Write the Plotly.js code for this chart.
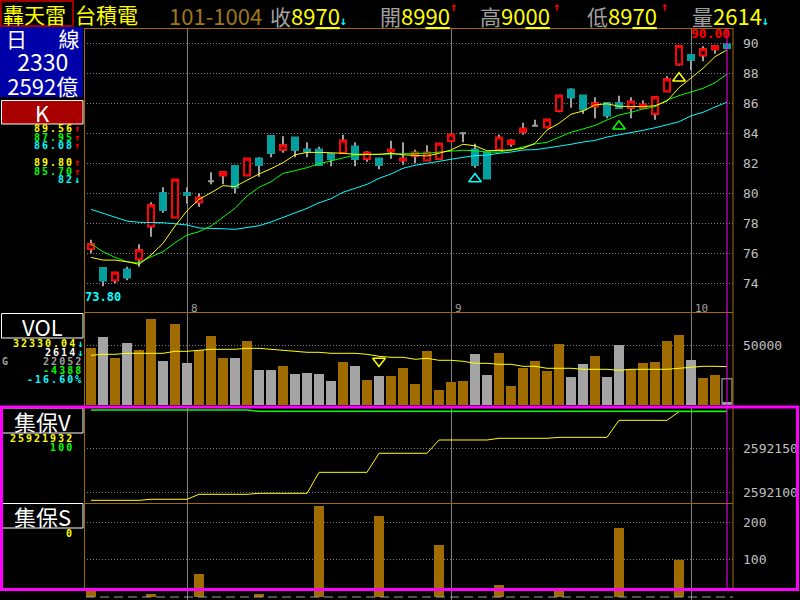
<!DOCTYPE html>
<html><head><meta charset="utf-8">
<script src="https://cdn.plot.ly/plotly-3.0.1.min.js"></script>
<style>html,body{margin:0;padding:0;background:#000;overflow:hidden}#chart{width:800px;height:600px}</style>
</head><body><div id="chart"></div>
<script>
// ---------- data ----------
const openP  = [76.3,75.0,74.2,74.9,75.6,77.8,80.0,78.4,80.0,79.4, 80.8,81.2,81.8,81.2,82.3,83.8,82.9,83.7,82.9,82.9, 82.6,82.7,83.1,82.3,82.3,82.8,82.2,82.5,82.2,82.3, 83.5,84.0,82.9,82.7,82.9,83.3,84.1,84.5,84.4,85.5, 86.9,86.5,85.8,86.0,86.0,85.7,85.7,85.3,86.8,88.6, 89.2,89.2,89.6,89.9];
const highP  = [76.9,75.0,74.7,75.1,76.6,79.4,80.4,80.9,80.4,80.0, 81.4,81.4,81.8,82.3,82.4,83.8,83.8,83.7,83.4,83.1, 82.6,83.9,83.4,82.8,82.3,83.5,83.4,82.9,83.2,83.3, 83.9,84.0,83.3,82.7,83.9,83.6,84.7,84.9,84.9,86.5, 87.0,86.5,86.4,86.0,86.5,86.4,86.2,86.4,87.8,89.8, 89.2,89.8,89.8,90.0];
const lowP   = [76.0,73.8,74.0,74.2,75.1,77.1,78.7,78.4,79.3,79.1, 80.6,80.6,80.0,81.2,81.1,82.4,82.7,82.4,82.4,81.9, 81.8,82.7,81.8,82.1,81.6,82.3,81.9,82.0,82.2,82.3, 83.5,83.4,81.7,81.0,82.9,83.1,83.9,84.5,84.4,85.4, 85.7,85.3,85.0,85.0,85.7,85.0,85.7,84.9,86.8,88.5, 88.2,88.8,89.3,89.7];
const closeP = [76.6,74.2,74.7,74.4,76.2,79.2,78.9,80.9,79.9,79.7, 80.8,81.4,80.4,82.3,81.9,82.7,83.2,82.9,82.8,81.9, 82.3,83.5,82.3,82.7,81.9,82.9,82.3,82.7,82.7,83.3, 83.9,84.0,81.9,81.0,83.7,83.5,84.3,84.5,84.9,86.5, 86.4,85.6,86.0,85.2,85.7,86.1,85.9,86.4,87.6,89.8, 88.9,89.6,89.8,89.7];
const ma5  = [75.73,75.55,75.55,75.44,75.27,75.89,76.67,77.82,78.84,79.60, 80.04,80.51,80.45,80.89,81.29,81.64,82.04,82.57,82.73,82.73, 82.71,82.67,82.60,82.60,82.60,82.67,82.57,82.53,82.49,82.67, 82.89,83.27,83.17,82.84,82.84,82.89,83.00,83.33,84.22,84.67, 85.27,85.49,85.89,85.97,85.80,85.78,85.78,85.84,86.15,87.04, 87.67,88.33,89.11,89.56];
const ma10 = [76.62,76.11,75.73,75.44,75.37,75.77,76.11,76.71,77.22,77.44, 77.82,78.40,79.00,79.82,80.40,80.77,81.33,81.51,81.71,81.97, 82.17,82.37,82.55,82.58,82.60,82.60,82.60,82.64,82.67,82.75, 82.82,82.87,82.84,82.75,82.75,82.89,83.09,83.29,83.40,83.71, 84.07,84.29,84.53,84.89,85.22,85.40,85.62,85.77,86.22,86.51, 86.77,87.00,87.37,87.95];
const ma20 = [78.93,78.67,78.44,78.15,78.07,78.07,78.04,77.97,77.89,77.69, 77.64,77.64,77.60,77.71,77.84,78.09,78.40,78.73,79.00,79.37, 79.64,80.07,80.31,80.60,81.00,81.29,81.67,81.87,82.00,82.15, 82.27,82.40,82.51,82.55,82.67,82.75,82.89,82.91,83.02,83.13, 83.27,83.42,83.53,83.75,83.89,84.04,84.20,84.37,84.55,84.77, 85.17,85.40,85.75,86.08];
const volume = [48300,57600,39900,52500,46400,72800,37100,68600,35700,46400, 58400,39900,39900,54200,29500,29500,33100,26400,27200,26400, 20500,36500,33100,21300,24700,24700,31500,18000,45800,12600, 19600,20500,43300,25500,44100,16300,31500,37400,28900,51700, 23900,34800,41600,23900,50800,30100,35700,36500,54200,59300, 38200,23000,25500,2614];
const volMA = [41900,42750,42750,43590,43590,43590,43590,45280,45280,46120, 46970,46970,46970,47810,47810,46970,46120,45280,44440,44440, 43590,43590,43590,42750,41060,40220,40220,38530,39380,37690, 37690,36850,35160,35160,34320,34320,32630,32630,30950,30950, 30950,30100,30100,30100,29260,30100,30100,30100,30100,30950, 31790,32630,32630,32330];
const estVolume = 22052;
const jbV = [2592091.4,2592091.4,2592091.4,2592091.4,2592091.4, 2592092.6,2592092.6,2592092.6,2592092.6, 2592098.2,2592098.2,2592098.2,2592098.2,2592098.2, 2592099.3,2592099.3,2592099.3,2592099.3,2592099.3, 2592123.0,2592123.0,2592123.0,2592123.0,2592123.0, 2592144.5,2592144.5,2592144.5,2592144.5,2592144.5, 2592159.5,2592159.5,2592159.5,2592159.5,2592159.5, 2592161.4,2592161.4,2592161.4,2592161.4,2592161.4, 2592162.5,2592162.5,2592162.5,2592162.5,2592162.5, 2592181.7,2592181.7,2592181.7,2592181.7,2592181.7, 2592191.5,2592191.5,2592191.5,2592191.5,2592191.5];
const jbPct = [100,100,100,100,100,100,100,100,100,100,100,100,100,100, 99.86,99.86,99.86,99.86,99.86,99.86,99.86,99.86,99.86,99.86, 99.86,99.86,99.86,99.86,99.86,99.86,99.86,99.86,99.86,99.86, 99.86,99.86,99.86,99.86,99.86,99.86,99.86,99.86,99.86,99.86, 99.86,99.86,99.86,99.86,99.86,99.86,99.86,99.86,99.86,99.86];
const jbWeekIdx = [0,5,9,14,19,24,29,34,39,44,49];
const jbS = [20,8,62,8,244,217,139,32,20,185,99];
const sigIdx = [32,44,49];
const sigVal = [80.95,84.47,87.67];
const volSigIdx = [24];
const volSigVal = [37100];
const monthIdx = [8,30,50];
const monthLabels = ['8','9','10'];
const priceTicks = [74,76,78,80,82,84,86,88,90];
const volTicks = [50000];
const jbVTicks = [2592100,2592150];
const jbSTicks = [100,200];

// ---------- styling ----------
const YEL='#ffff00', GRN='#00ff00', CYN='#00ffff', RED='#ff0000', TEAL='#00a0a0', WICK='#a0a0a0';
const VUP='#a06c00', VDN='#a4a4a4', FRAME='#a06c00', GRID='#808080', LBL='#c0c0c0', MAG='#ff00ff';
const CJK="'Noto Sans CJK TC', sans-serif";
const MONO="'DejaVu Sans Mono', monospace";

const L=84, R=733, T=28, B=600, W=R-L, H=B-T;
const pxX = x => (x-L)/W;
const pxY = y => (B-y)/H;

const idx = openP.map((_,i)=>i);
const up = closeP.map((c,i)=> c>openP[i] ? true : (c<openP[i] ? false : (i>0 ? c>=closeP[i-1] : true)));
const bodyO = openP.map((o,i)=> o===closeP[i] ? null : o);
const bodyC = closeP.map((c,i)=> c===openP[i] ? null : c);
const bodyH = openP.map((o,i)=> o===closeP[i] ? null : Math.max(o,closeP[i]));
const bodyL = openP.map((o,i)=> o===closeP[i] ? null : Math.min(o,closeP[i]));

const traces = [
  {type:'candlestick', x:idx, open:openP, high:highP, low:lowP, close:closeP, xaxis:'x', yaxis:'y',
   increasing:{line:{color:WICK,width:2}, fillcolor:'#000'}, decreasing:{line:{color:WICK,width:2}, fillcolor:'#000'},
   whiskerwidth:0, hoverinfo:'skip', showlegend:false},
  {type:'candlestick', x:idx, open:bodyO, high:bodyH, low:bodyL, close:bodyC, xaxis:'x', yaxis:'y',
   increasing:{line:{color:RED,width:2}, fillcolor:'#000'}, decreasing:{line:{color:TEAL,width:2}, fillcolor:TEAL},
   whiskerwidth:0, hoverinfo:'skip', showlegend:false},
  {type:'scatter', mode:'lines', x:idx, y:ma20, line:{color:CYN,width:1}, xaxis:'x', yaxis:'y', hoverinfo:'skip'},
  {type:'scatter', mode:'lines', x:idx, y:ma10, line:{color:GRN,width:1}, xaxis:'x', yaxis:'y', hoverinfo:'skip'},
  {type:'scatter', mode:'lines', x:idx, y:ma5, line:{color:YEL,width:1}, xaxis:'x', yaxis:'y', hoverinfo:'skip'},
  {type:'scatter', mode:'markers', x:sigIdx, y:sigVal, xaxis:'x', yaxis:'y',
   marker:{symbol:'triangle-up-open', size:11, color:[CYN,GRN,YEL], line:{width:1.5}}, hoverinfo:'skip'},
  // volume
  {type:'bar', x:idx, y:volume, xaxis:'x', yaxis:'y2', width:0.83,
   marker:{color:up.map(u=>u?VUP:VDN), line:{width:0}}, hoverinfo:'skip'},
  {type:'bar', x:[idx[idx.length-1]], y:[estVolume], xaxis:'x', yaxis:'y2', width:0.83,
   marker:{color:'rgba(0,0,0,0)', line:{color:'#808080',width:1.5}}, hoverinfo:'skip'},
  {type:'scatter', mode:'lines', x:idx, y:volMA, line:{color:YEL,width:1}, xaxis:'x', yaxis:'y2', hoverinfo:'skip'},
  {type:'scatter', mode:'markers', x:volSigIdx, y:volSigVal, xaxis:'x', yaxis:'y2',
   marker:{symbol:'triangle-down-open', size:11, color:YEL, line:{width:1.5}}, hoverinfo:'skip'},
  // 集保V
  {type:'scatter', mode:'lines', x:idx, y:jbPct, line:{color:GRN,width:1.5}, xaxis:'x', yaxis:'y5', hoverinfo:'skip'},
  {type:'scatter', mode:'lines', x:idx, y:jbV, line:{color:YEL,width:1}, xaxis:'x', yaxis:'y3', hoverinfo:'skip'},
  // 集保S
  {type:'bar', x:jbWeekIdx, y:jbS, xaxis:'x', yaxis:'y4', width:0.8, marker:{color:VUP, line:{width:0}}, hoverinfo:'skip'}
];

function yax(domain, range, ticks, extra) {
  return Object.assign({domain, range, side:'right', anchor:'x', tickmode:'array', tickvals:ticks,
    ticktext:ticks.map(String), ticks:'', ticklabelstandoff:9, showline:false, zeroline:false,
    showgrid:true, gridcolor:GRID, gridwidth:1, griddash:'1px,2px',
    tickfont:{family:MONO, size:13, color:LBL}, fixedrange:true}, extra||{});
}

const shapes = [];
function rect(x0,y0,x1,y1,lineColor,lw,fill){
  shapes.push({type:'rect', xref:'paper', yref:'paper', x0:pxX(x0), x1:pxX(x1), y0:pxY(y1), y1:pxY(y0),
    line:{color:lineColor||'rgba(0,0,0,0)', width:lw||0}, fillcolor:fill||'rgba(0,0,0,0)', layer:'above'});
}
function hline(x0,x1,y,color,w){ shapes.push({type:'line', xref:'paper', yref:'paper', x0:pxX(x0), x1:pxX(x1), y0:pxY(y), y1:pxY(y), line:{color,width:w||1}, layer:'above'}); }
function vline(x,y0,y1,color,w){ shapes.push({type:'line', xref:'paper', yref:'paper', x0:pxX(x), x1:pxX(x), y0:pxY(y1), y1:pxY(y0), line:{color,width:w||1}, layer:'above'}); }

// frame
hline(84,733,28.5,FRAME); vline(84.5,28,590,FRAME); vline(733,28,590,FRAME);
hline(84,733,312.5,FRAME); hline(84,733,503.5,FRAME);
// 集保S zero line
shapes.push({type:'line', xref:'paper', yref:'y4', x0:pxX(86), x1:pxX(733), y0:0, y1:0, line:{color:'#a0a0a0', width:1, dash:'9px,5px'}, layer:'above'});
// cursor
shapes.push({type:'line', xref:'x', yref:'paper', x0:idx.length-1, x1:idx.length-1, y0:pxY(590), y1:1, line:{color:MAG,width:1}, layer:'above'});
// left info boxes
rect(0,27,83,97,null,0,'#0000a8');
rect(1.5,100.5,83,124,'#ffffff',1,'#a80000');
rect(1.5,313.5,83,338,'#ffffff',1,'#000');
rect(1.5,408,83,433,'#ffffff',1,'#000');
rect(1.5,503.5,83,528,'#ffffff',1,'#000');
// header box
rect(1,1,73,26,'#a00000',2,null);
// magenta selection frame
rect(1.5,407,797.5,589.5,MAG,3,null);

const anns = [];
function ann(x,y,text,color,size,family,xanchor,h){
  const a = {xref:'paper', yref:'paper', x:pxX(x), y:pxY(y), text, showarrow:false,
    xanchor:xanchor||'left', yanchor:'middle', borderpad:0, font:{color, size, family}};
  if(h) a.height = h;
  anns.push(a);
}
function hdr(x,text,color,size){
  anns.push({xref:'paper', yref:'paper', x:pxX(x), y:pxY(-2), text, showarrow:false, xanchor:'left', yanchor:'top',
    borderpad:0, font:{color, size, family:CJK}});
}
const U = s => '<span style="text-decoration:underline">'+s+'</span>';
const DNA = '<span style="color:#00ffff;font-size:12px;font-family:DejaVu Sans Mono;font-weight:bold">↓</span>';
const G = s => '<span style="color:#a0a0a0;font-size:21px">'+s+'</span>';
// header
hdr(2,'轟天雷',YEL,21);
hdr(74,'台積電',YEL,21);
hdr(168,'101-1004','#a07818',22);
hdr(269,G('收')+'89'+U('70')+DNA,YEL,22);
hdr(379,G('開')+'89'+U('90'),YEL,22);
hdr(479,G('高')+'90'+U('00'),YEL,22);
hdr(586,G('低')+'89'+U('70'),YEL,22);
hdr(691,G('量')+'2614'+DNA,YEL,22);
ann(449,7,'<b>↑</b>',RED,12,MONO,'left',12);
ann(552,7,'<b>↑</b>',RED,12,MONO,'left',12);
ann(660,7,'<b>↑</b>',RED,12,MONO,'left',12);
// left info panel (blue box: one multi-line text)
anns.push({xref:'paper', yref:'paper', x:pxX(43), y:pxY(21.6), xanchor:'center', yanchor:'top', align:'center',
  showarrow:false, borderpad:0, font:{size:24/1.3, family:CJK, color:'#ffffff'},
  text:'<span style="font-size:21px">日\u3000\u2002線</span><br><span style="font-size:23px">2330</span><br><span style="font-size:22px">2592億</span>'});
ann(42,112,'K','#ffffff',22,CJK,'center',22);
// multi-line legend blocks (one text each)
function legBlock(xRight, firstDigitTop, step, rows){
  const text = rows.map(r => r ? ('<b><span style="font-size:10px;letter-spacing:2px;color:'+r[1]+'">'+r[0]+'</span>'
      + (r[2] ? '<span style="font-size:10px;color:'+r[3]+'">'+r[2]+'</span>' : '') + '</b>') : '\u00a0').join('<br>');
  anns.push({xref:'paper', yref:'paper', x:pxX(xRight), y:pxY(firstDigitTop-3), text, showarrow:false,
    xanchor:'right', yanchor:'top', align:'right', borderpad:0, font:{size:step/1.3, family:MONO, color:'#ffffff'}});
}
legBlock(81, 125, 8.5, [['89.56',YEL,'↑',RED],['87.95',GRN,'↑',RED],['86.08',CYN,'↑',RED],null,
  ['89.80',YEL,'↑',RED],['85.70',GRN,'↑',RED],['82',CYN,'↓',CYN]]);
ann(42,325.5,'VOL','#ffffff',22,CJK,'center',21);
legBlock(84, 340, 9, [['32330.04',YEL,'↓',CYN],['2614','#ffffff','↓',CYN],['22052','#a0a0a0'],['-4388',GRN],['-16.60%',CYN]]);
ann(1,361,'<b>G</b>','#a0a0a0',10,MONO,'left',8);
ann(42,420.5,'集保V','#ffffff',22,CJK,'center',24);
legBlock(75, 435, 9, [['25921932',YEL],['100',GRN]]);
ann(42,515.5,'集保S','#ffffff',22,CJK,'center',24);
legBlock(75, 529.5, 9, [['0',YEL]]);
// month labels
monthIdx.forEach((m,k)=>anns.push({xref:'x', yref:'paper', x:m, y:pxY(308), text:monthLabels[k], showarrow:false,
  xanchor:'left', yanchor:'middle', xshift:2, font:{color:'#a0a0a0', size:11, family:MONO}}));
// low / high labels
const lowVal = Math.min(...lowP), lowIdx = lowP.indexOf(lowVal);
const highVal = Math.max(...highP), highIdx = highP.indexOf(highVal);
anns.push({xref:'x', yref:'y', x:lowIdx, y:lowVal, text:'<b>'+lowVal.toFixed(2)+'</b>', showarrow:false, xanchor:'center', yanchor:'top', yshift:-2, font:{color:CYN,size:12,family:MONO}});
anns.push({xref:'x', yref:'y', x:highIdx, y:highVal, text:'<b>'+highVal.toFixed(2)+'</b>', showarrow:false, xanchor:'right', yanchor:'bottom', xshift:5, yshift:0, font:{color:RED,size:13,family:MONO}});

const layout = {
  width:800, height:600, margin:{l:L, r:800-R, t:T, b:0, pad:0},
  paper_bgcolor:'#000', plot_bgcolor:'#000', showlegend:false, barmode:'overlay', bargap:0,
  xaxis:{range:[-7/12, 53.5], tickmode:'array', tickvals:monthIdx, showticklabels:false, ticks:'',
    showgrid:true, gridcolor:GRID, gridwidth:1, zeroline:false, showline:false, fixedrange:true,
    rangeslider:{visible:false}},
  yaxis: yax([pxY(312),1],[72.09,91.02],priceTicks),
  yaxis2:yax([pxY(405),pxY(313)],[0,77575],volTicks),
  yaxis3:yax([pxY(503),pxY(408)],[2592088.4,2592195.6],jbVTicks),
  yaxis4:yax([0,pxY(503)],[-8.04,252],jbSTicks),
  yaxis5:{overlaying:'y3', range:[90,100.2155], visible:false, showgrid:false, zeroline:false, fixedrange:true},
  shapes, annotations:anns
};
Plotly.newPlot('chart', traces, layout, {displayModeBar:false, staticPlot:true});
</script>
</body></html>
